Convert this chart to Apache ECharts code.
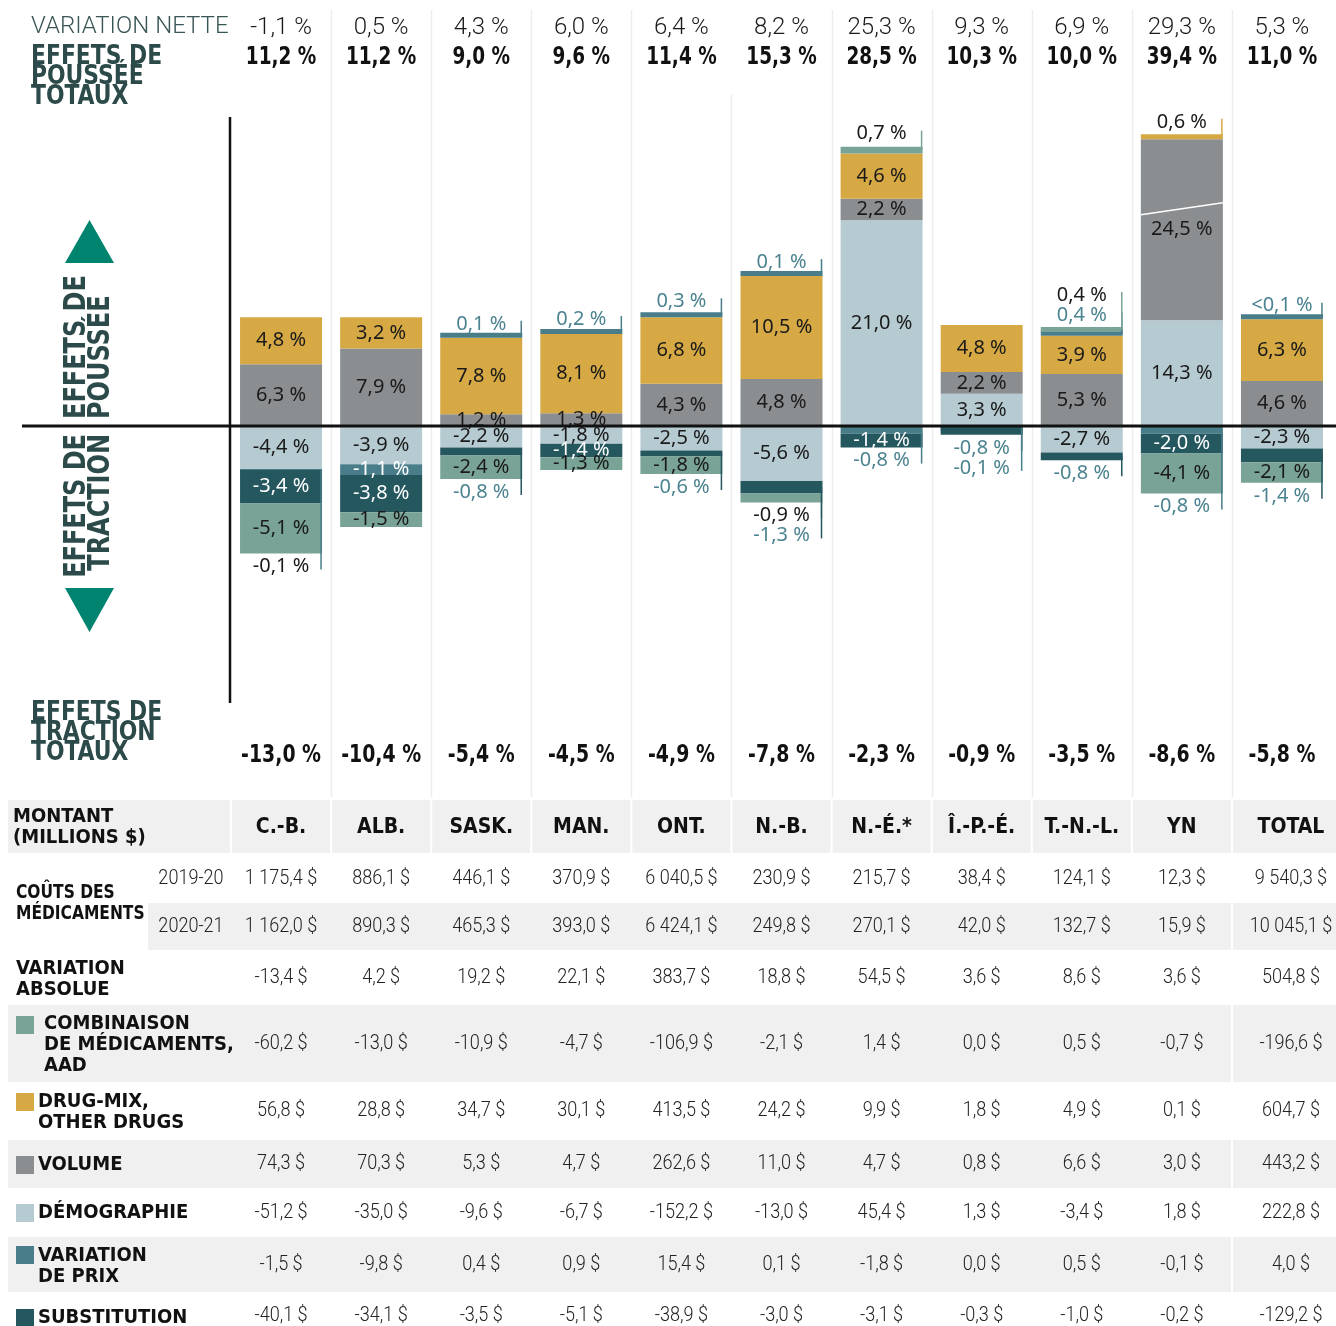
<!DOCTYPE html>
<html>
<head>
<meta charset="utf-8">
<script src="https://cdn.jsdelivr.net/npm/echarts@6.0.0/dist/echarts.min.js"></script>
<style>
  html, body { margin: 0; padding: 0; background: #fff; }
  #chart { width: 1336px; height: 1326px; }
</style>
</head>
<body>
<div id="chart"></div>
<script>
const provinces = ['C.-B.', 'ALB.', 'SASK.', 'MAN.', 'ONT.', 'N.-B.', 'N.-É.*', 'Î.-P.-É.', 'T.-N.-L.', 'YN', 'TOTAL']
const netVariation = [-1.1, 0.5, 4.3, 6.0, 6.4, 8.2, 25.3, 9.3, 6.9, 29.3, 5.3]
const pushTotals = [11.2, 11.2, 9.0, 9.6, 11.4, 15.3, 28.5, 10.3, 10.0, 39.4, 11.0]
const tractionTotals = [-13.0, -10.4, -5.4, -4.5, -4.9, -7.8, -2.3, -0.9, -3.5, -8.6, -5.8]

// bar parts, % of 2019-20 costs
const demographie = [-4.4, -3.9, -2.2, -1.8, -2.5, -5.6, 21.0, 3.3, -2.7, 14.3, -2.3]
const volume = [6.3, 7.9, 1.2, 1.3, 4.3, 4.8, 2.2, 2.2, 5.3, 24.5, 4.6]
const drugMix = [4.8, 3.2, 7.8, 8.1, 6.8, 10.5, 4.6, 4.8, 3.9, 0.6, 6.3]
const prix = [-0.1, -1.1, 0.1, 0.2, 0.3, 0.1, -0.8, -0.1, 0.4, -0.8, 0.04]
const substitution = [-3.4, -3.8, -0.8, -1.4, -0.6, -1.3, -1.4, -0.8, -0.8, -2.0, -1.4]
const combinaison = [-5.1, -1.5, -2.4, -1.3, -1.8, -0.9, 0.7, null, 0.4, -4.1, -2.1]

// table, millions $
const costs2019 = [1175.4, 886.1, 446.1, 370.9, 6040.5, 230.9, 215.7, 38.4, 124.1, 12.3, 9540.3]
const costs2020 = [1162.0, 890.3, 465.3, 393.0, 6424.1, 249.8, 270.1, 42.0, 132.7, 15.9, 10045.1]
const absVariation = [-13.4, 4.2, 19.2, 22.1, 383.7, 18.8, 54.5, 3.6, 8.6, 3.6, 504.8]
const combAmounts = [-60.2, -13.0, -10.9, -4.7, -106.9, -2.1, 1.4, 0.0, 0.5, -0.7, -196.6]
const drugAmounts = [56.8, 28.8, 34.7, 30.1, 413.5, 24.2, 9.9, 1.8, 4.9, 0.1, 604.7]
const volumeAmounts = [74.3, 70.3, 5.3, 4.7, 262.6, 11.0, 4.7, 0.8, 6.6, 3.0, 443.2]
const demoAmounts = [-51.2, -35.0, -9.6, -6.7, -152.2, -13.0, 45.4, 1.3, -3.4, 1.8, 222.8]
const prixAmounts = [-1.5, -9.8, 0.4, 0.9, 15.4, 0.1, -1.8, 0.0, 0.5, -0.1, 4.0]
const substAmounts = [-40.1, -34.1, -3.5, -5.1, -38.9, -3.0, -3.1, -0.3, -1.0, -0.2, -129.2]

// labels put outside the bar: [province, part, row away from the bar, dark text]
const calloutLabels = [
  [0, 'prix', 0, true],
  [2, 'prix', 0], [2, 'substitution', 0],
  [3, 'prix', 0],
  [4, 'prix', 0], [4, 'substitution', 0],
  [5, 'prix', 0], [5, 'combinaison', 0, true], [5, 'substitution', 1],
  [6, 'combinaison', 0, true], [6, 'prix', 0],
  [7, 'substitution', 0], [7, 'prix', 1],
  [8, 'prix', 0], [8, 'combinaison', 1, true], [8, 'substitution', 0],
  [9, 'drugMix', 0, true], [9, 'prix', 0],
  [10, 'prix', 0], [10, 'substitution', 0]
]

const COND = '"DejaVu Sans Condensed", "DejaVu Sans", sans-serif'
const LIGHT = 'Roboto, sans-serif'
const LABEL = '"Noto Sans", sans-serif'
const DARK = '#2b4a49'
const TEAL_TXT = '#4c8390'

// stacking order from the zero line outwards
const parts = [
  { key: 'demographie', data: demographie, color: '#b5cad1', text: '#1a1a1a' },
  { key: 'volume', data: volume, color: '#8a8e91', text: '#1a1a1a' },
  { key: 'drugMix', data: drugMix, color: '#d6a944', text: '#1a1a1a' },
  { key: 'prix', data: prix, color: '#497d89', text: '#fff' },
  { key: 'substitution', data: substitution, color: '#25575f', text: '#fff' },
  { key: 'combinaison', data: combinaison, color: '#78a396', text: '#1a1a1a' }
]
const YN = provinces.indexOf('YN')

const bases = parts.map(() => [])
const posSum = [], negSum = []
provinces.forEach((p, i) => {
  let pos = 0, neg = 0
  parts.forEach((f, k) => {
    const v = f.data[i]
    if (v == null) return
    if (v >= 0) { bases[k][i] = pos; pos += v } else { bases[k][i] = neg; neg += v }
  })
  posSum[i] = pos
  negSum[i] = neg
})

const pct = v => Math.abs(v) < 0.05 ? '<0,1 %' : v.toFixed(1).replace('.', ',') + ' %'
const money = v => {
  const s = Math.abs(v).toFixed(1).split('.')
  return (v < 0 ? '-' : '') + s[0].replace(/\B(?=(\d{3})+(?!\d))/g, ' ') + ',' + s[1] + ' $'
}
const isCallout = (i, key) => calloutLabels.some(c => c[0] === i && c[1] === key)

// pixel layout
const PX_MAIN = 9.8, PX_YN = 7.39
const ZERO_Y = 426, GRID_TOP = 10, GRID_BOTTOM = 797

function barSeries(f, onYn) {
  return {
    type: 'bar',
    name: f.key + (onYn ? '-yn' : ''),
    stack: onYn ? 'yn' : 'main',
    xAxisIndex: onYn ? 1 : 0,
    yAxisIndex: onYn ? 1 : 0,
    barWidth: 82,
    barMinHeight: 5,
    silent: true,
    itemStyle: { color: f.color },
    label: {
      show: true,
      position: 'inside',
      color: f.text,
      fontFamily: LABEL,
      fontSize: 20,
      formatter: p => isCallout(p.dataIndex, f.key) ? '' : pct(p.value)
    },
    data: f.data.map((v, i) => {
      const ynTop = i === YN && v > 0
      return ynTop === onYn ? v : null
    })
  }
}

function calloutData(onYn) {
  return calloutLabels.filter(([i, key]) => {
    const v = parts.find(f => f.key === key).data[i]
    return (i === YN && v > 0) === onYn
  }).map(([i, key, row, dark]) => {
    const k = parts.findIndex(f => f.key === key)
    const v = parts[k].data[i]
    return [i, v > 0 ? posSum[i] : negSum[i], k, row, dark ? 1 : 0]
  })
}

function calloutSeries(onYn) {
  return {
    type: 'custom',
    xAxisIndex: onYn ? 1 : 0,
    yAxisIndex: onYn ? 1 : 0,
    silent: true,
    z: 5,
    data: calloutData(onYn),
    renderItem: (params, api) => {
      const i = api.value(0), anchor = api.value(1), k = api.value(2), row = api.value(3)
      const f = parts[k], v = f.data[i]
      const side = v > 0 ? -1 : 1
      const [cx, ay] = api.coord([i, anchor])
      const mid = api.coord([i, bases[k][i] + v / 2])[1]
      const ly = ay + side * (13 + 20 * row)
      const lx = cx + 40
      const txt = api.value(4) ? '#1a1a1a' : TEAL_TXT
      return {
        type: 'group',
        children: [
          { type: 'line', shape: { x1: lx, y1: mid, x2: lx, y2: ly + side * 3 }, style: { stroke: f.color, lineWidth: 1.5 } },
          { type: 'text', style: { text: pct(v), x: cx, y: ly, align: 'center', verticalAlign: 'middle', fill: txt, font: '20px ' + LABEL } }
        ]
      }
    }
  }
}

const chart = echarts.init(document.getElementById('chart'))

chart.setOption({
  animation: false,
  backgroundColor: '#fff',
  grid: { left: 231, right: 4, top: GRID_TOP, bottom: 1326 - GRID_BOTTOM },
  xAxis: [
    { type: 'category', data: provinces, axisLine: { show: false }, axisTick: { show: false }, axisLabel: { show: false } },
    { type: 'category', data: provinces, show: false }
  ],
  yAxis: [
    { type: 'value', show: false, min: -(GRID_BOTTOM - ZERO_Y) / PX_MAIN, max: (ZERO_Y - GRID_TOP) / PX_MAIN },
    { type: 'value', show: false, min: -(GRID_BOTTOM - ZERO_Y) / PX_YN, max: (ZERO_Y - GRID_TOP) / PX_YN }
  ],
  series: [
    ...parts.map(f => barSeries(f, false)),
    ...parts.map(f => barSeries(f, true)),
    calloutSeries(false),
    calloutSeries(true)
  ]
})

// decorations, header rows and table
const colX = provinces.map((p, i) => chart.convertToPixel({ xAxisIndex: 0 }, i))
const pitch = colX[1] - colX[0]
const zeroPx = chart.convertToPixel({ yAxisIndex: 0 }, 0)
const ynSeries = parts.length + 1
const [ynX, brk1] = chart.convertToPixel({ seriesIndex: ynSeries }, [YN, 28.6])
const brk2 = chart.convertToPixel({ seriesIndex: ynSeries }, [YN, 30.2])[1]

const g = []
// sx squeezes the glyphs to mimic the narrow typeface of the original
const text = (t, x, y, font, fill, align, extra, sx) => g.push({
  type: 'text', z: 50, silent: true, x, y, scaleX: sx || 1,
  style: Object.assign({ text: t, x: 0, y: 0, font, fill, align: align || 'center', verticalAlign: 'middle' }, extra || {})
})
const rect = (x, y, w, h, fill) => g.push({ type: 'rect', z: -10, silent: true, shape: { x, y, width: w, height: h }, style: { fill } })

// column separators between the provinces
colX.slice(1).forEach((x, j) => {
  const bx = Math.round(x - pitch / 2) + 0.5
  g.push({ type: 'line', z: -5, silent: true, shape: { x1: bx, y1: j === 4 ? 95 : 10, x2: bx, y2: GRID_BOTTOM }, style: { stroke: '#ededed', lineWidth: 1.5 } })
})

// axis lines
g.push({ type: 'line', z: 40, silent: true, shape: { x1: 230, y1: 117, x2: 230, y2: 703 }, style: { stroke: '#111', lineWidth: 2.5 } })
g.push({ type: 'line', z: 40, silent: true, shape: { x1: 22, y1: zeroPx, x2: 1336, y2: zeroPx }, style: { stroke: '#111', lineWidth: 3 } })
g.push({ type: 'line', z: 40, silent: true, shape: { x1: ynX - 41, y1: brk1, x2: ynX + 41, y2: brk2 }, style: { stroke: '#fff', lineWidth: 1.5 } })

// arrows and rotated titles
g.push({ type: 'polygon', z: 40, silent: true, shape: { points: [[65, 263], [114, 263], [89.5, 220]] }, style: { fill: '#00846f' } })
g.push({ type: 'polygon', z: 40, silent: true, shape: { points: [[65, 588], [114, 588], [89.5, 632]] }, style: { fill: '#00846f' } })
g.push({ type: 'text', z: 40, silent: true, x: 65, y: 419, rotation: Math.PI / 2, scaleX: 0.86,
  style: { text: 'EFFETS DE\nPOUSSÉE', font: 'bold 31px ' + COND, fill: DARK, align: 'left', verticalAlign: 'top', lineHeight: 24 } })
g.push({ type: 'text', z: 40, silent: true, x: 65, y: 434, rotation: Math.PI / 2, scaleX: 0.86,
  style: { text: 'EFFETS DE\nTRACTION', font: 'bold 31px ' + COND, fill: DARK, align: 'right', verticalAlign: 'top', lineHeight: 24 } })

// header and footer rows of the chart
text('VARIATION NETTE', 31, 27, '300 24px ' + LIGHT, '#3a5555', 'left')
text('EFFETS DE\nPOUSSÉE\nTOTAUX', 31, 47, 'bold 27px ' + COND, DARK, 'left', { verticalAlign: 'top', lineHeight: 20 }, 0.9)
text('EFFETS DE\nTRACTION\nTOTAUX', 31, 703, 'bold 27px ' + COND, DARK, 'left', { verticalAlign: 'top', lineHeight: 20 }, 0.9)
provinces.forEach((p, i) => {
  text(pct(netVariation[i]), colX[i], 28, '300 24px ' + LIGHT, '#1a1a1a')
  text(pct(pushTotals[i]), colX[i], 57, 'bold 25px ' + COND, '#111', 'center', null, 0.82)
  text(pct(tractionTotals[i]), colX[i], 755, 'bold 25px ' + COND, '#111', 'center', null, 0.84)
})

// table
const SHADE = '#f0f0f0'
const last = provinces.length - 1
const tabX = colX.map((x, i) => i === last ? x + 9 : x)
const bold = 'bold 20px ' + COND
const num = '300 21px ' + LIGHT
const NUM_SX = 0.86

rect(8, 800, colX[0] - 51 - 8, 53, SHADE)
provinces.forEach((p, i) => {
  const x0 = colX[i] - 49
  const x1 = i === last ? 1336 : colX[i] + 49
  rect(x0, 800, x1 - x0, 53, SHADE)
  text(p, tabX[i], 828, 'bold 21px ' + COND, '#111')
})
text('MONTANT\n(MILLIONS $)', 13, 827, bold, '#111', 'left', { lineHeight: 21 })

const tableRows = [
  { values: costs2019, y0: 855, y1: 903 },
  { values: costs2020, y0: 903, y1: 950, shadeFrom: 148 },
  { values: absVariation, y0: 950, y1: 1005 },
  { values: combAmounts, y0: 1005, y1: 1082, shadeFrom: 8 },
  { values: drugAmounts, y0: 1082, y1: 1140 },
  { values: volumeAmounts, y0: 1140, y1: 1188, shadeFrom: 8 },
  { values: demoAmounts, y0: 1188, y1: 1237 },
  { values: prixAmounts, y0: 1237, y1: 1292, shadeFrom: 8 },
  { values: substAmounts, y0: 1292, y1: 1340 }
]
tableRows.forEach(r => {
  const cy = (r.y0 + r.y1) / 2
  if (r.shadeFrom != null) {
    const split = colX[last] - 50
    rect(r.shadeFrom, r.y0, split - 1 - r.shadeFrom, r.y1 - r.y0, SHADE)
    rect(split + 1, r.y0, 1336 - split - 1, r.y1 - r.y0, SHADE)
  }
  r.values.forEach((v, i) => text(money(v), tabX[i], cy, num, '#222', 'center', null, NUM_SX))
})
text('2019-20', 191, 879, num, '#222', 'center', null, NUM_SX)
text('2020-21', 191, 927, num, '#222', 'center', null, NUM_SX)
text('COÛTS DES\nMÉDICAMENTS', 16, 903, bold, '#111', 'left', { lineHeight: 21 }, 0.86)
text('VARIATION\nABSOLUE', 16, 979, bold, '#111', 'left', { lineHeight: 21 })

const legendRows = [
  { part: 'combinaison', label: 'COMBINAISON\nDE MÉDICAMENTS,\nAAD', sq: 1016, ty: 1045, tx: 44 },
  { part: 'drugMix', label: 'DRUG-MIX,\nOTHER DRUGS', sq: 1093, ty: 1112, tx: 38 },
  { part: 'volume', label: 'VOLUME', sq: 1156, ty: 1165, tx: 38 },
  { part: 'demographie', label: 'DÉMOGRAPHIE', sq: 1204, ty: 1213, tx: 38 },
  { part: 'prix', label: 'VARIATION\nDE PRIX', sq: 1246, ty: 1266, tx: 38 },
  { part: 'substitution', label: 'SUBSTITUTION', sq: 1309, ty: 1318, tx: 38 }
]
legendRows.forEach(l => {
  const f = parts.find(p => p.key === l.part)
  g.push({ type: 'rect', z: 10, silent: true, shape: { x: 16, y: l.sq, width: 18, height: 18 }, style: { fill: f.color } })
  text(l.label, l.tx, l.ty, bold, '#111', 'left', { lineHeight: 21 })
})

chart.setOption({ graphic: { elements: g } })
</script>
</body>
</html>
